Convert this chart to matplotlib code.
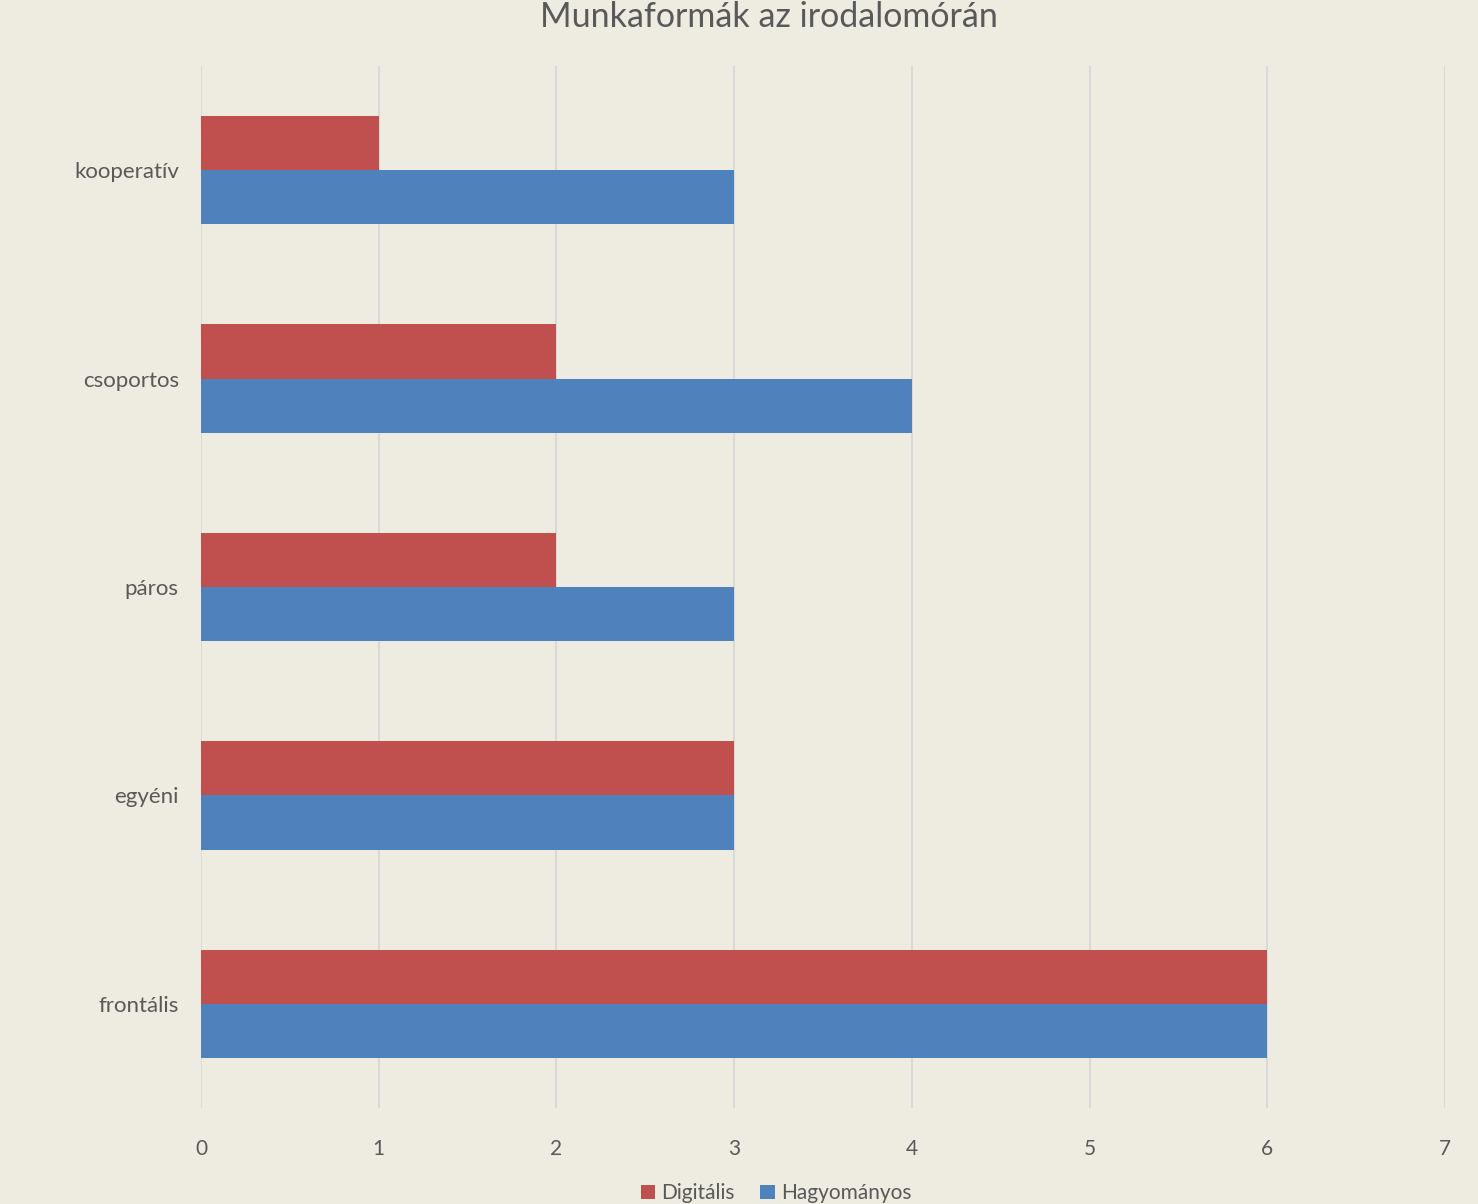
import numpy as np
import matplotlib.pyplot as plt

categories = ['frontális', 'egyéni', 'páros', 'csoportos', 'kooperatív']
digitalis = [6, 3, 2, 2, 1]
hagyomanyos = [6, 3, 3, 4, 3]
x_ticks = [0, 1, 2, 3, 4, 5, 6, 7]

bg = '#EEEBE0'
text_col = '#595959'
plt.rcParams['font.family'] = ['Lato', 'DejaVu Sans']

fig = plt.figure(figsize=(14.78, 12.04), dpi=100, facecolor=bg)
ax = fig.add_axes([0.136, 0.0797, 0.8417, 0.8655], facecolor=bg)

y = np.arange(len(categories))
h = 0.26
ax.barh(y + h / 2, digitalis, height=h, color='#C0504D', label='Digitális', zorder=3)
ax.barh(y - h / 2, hagyomanyos, height=h, color='#4F81BD', label='Hagyományos', zorder=3)

ax.set_xlim(0, 7)
ax.set_ylim(-0.5, len(categories) - 0.5)
ax.set_xticks(x_ticks)
ax.set_yticks(y)
ax.set_yticklabels(categories, fontsize=16)
ax.tick_params(axis='both', length=0, colors=text_col)
ax.tick_params(axis='x', labelsize=15, pad=22)
ax.tick_params(axis='y', pad=16)
ax.grid(axis='x', color='#D9D9D9', linewidth=1.5, zorder=0)
for s in ax.spines.values():
    s.set_visible(False)

fig.text(0.52, 0.986, 'Munkaformák az irodalomórán', ha='center', va='center',
         fontsize=24.5, color=text_col)
fig.legend(loc='center', bbox_to_anchor=(0.525, 0.009), ncol=2, frameon=False,
           fontsize=15, labelcolor=text_col, handlelength=0.7, handleheight=0.7,
           handletextpad=0.3, columnspacing=1.2)

fig.savefig('out.png', facecolor=bg)
